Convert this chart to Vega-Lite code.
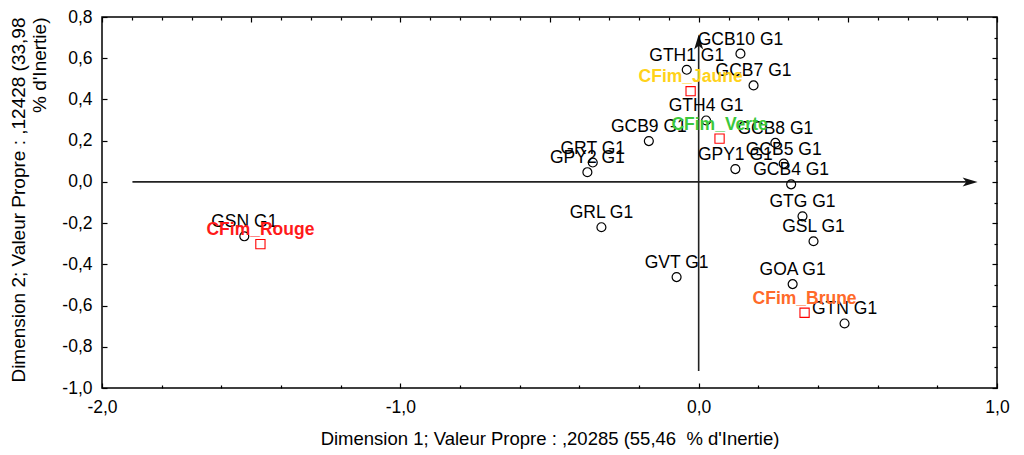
{
  "$schema": "https://vega.github.io/schema/vega-lite/v6.json",
  "width": 895,
  "height": 371,
  "autosize": {"type": "none"},
  "padding": {"left": 102, "top": 17, "right": 27, "bottom": 67},
  "background": "white",
  "config": {
    "view": {"stroke": "#000", "strokeWidth": 1.5},
    "font": "Liberation Sans",
    "axis": {"grid": false, "domain": false, "labelFont": "Liberation Sans", "titleFont": "Liberation Sans", "labelColor": "#000", "titleColor": "#000", "titleFontWeight": "normal", "tickColor": "#000", "tickWidth": 1.2}
  },
  "datasets": {
    "pts": [
      {"name": "GCB10 G1", "d1": 0.140, "d2": 0.622, "kind": "obs"},
      {"name": "GTH1 G1", "d1": -0.040, "d2": 0.544, "kind": "obs"},
      {"name": "GCB7 G1", "d1": 0.184, "d2": 0.468, "kind": "obs"},
      {"name": "GTH4 G1", "d1": 0.025, "d2": 0.298, "kind": "obs"},
      {"name": "GCB9 G1", "d1": -0.167, "d2": 0.198, "kind": "obs"},
      {"name": "GCB8 G1", "d1": 0.257, "d2": 0.189, "kind": "obs"},
      {"name": "GCB5 G1", "d1": 0.285, "d2": 0.089, "kind": "obs"},
      {"name": "GPY1 G1", "d1": 0.123, "d2": 0.062, "kind": "obs"},
      {"name": "GCB4 G1", "d1": 0.310, "d2": -0.012, "kind": "obs"},
      {"name": "GTG G1", "d1": 0.348, "d2": -0.167, "kind": "obs"},
      {"name": "GSL G1", "d1": 0.385, "d2": -0.288, "kind": "obs"},
      {"name": "GOA G1", "d1": 0.315, "d2": -0.496, "kind": "obs"},
      {"name": "GTN G1", "d1": 0.489, "d2": -0.687, "kind": "obs"},
      {"name": "GVT G1", "d1": -0.074, "d2": -0.462, "kind": "obs"},
      {"name": "GRL G1", "d1": -0.326, "d2": -0.220, "kind": "obs"},
      {"name": "GRT G1", "d1": -0.355, "d2": 0.094, "kind": "obs"},
      {"name": "GPY2 G1", "d1": -0.373, "d2": 0.047, "kind": "obs"},
      {"name": "GSN G1", "d1": -1.523, "d2": -0.264, "kind": "obs"}
    ],
    "cats": [
      {"name": "CFim_Jaune", "d1": -0.027, "d2": 0.440},
      {"name": "CFim_Verte", "d1": 0.070, "d2": 0.210},
      {"name": "CFim_Rouge", "d1": -1.469, "d2": -0.302},
      {"name": "CFim_Brune", "d1": 0.355, "d2": -0.635}
    ],
    "axlines": [
      {"dir": "h", "x": -1.898, "x2": 0.905, "y": 0, "y2": 0},
      {"dir": "v", "x": 0, "x2": 0, "y": -0.918, "y2": 0.69}
    ],
    "heads": [
      {"dir": "h", "x": 0.935, "y": 0},
      {"dir": "v", "x": 0, "y": 0.715}
    ]
  },
  "layer": [
    {
      "layer": [
        {
          "data": {"name": "axlines"},
          "mark": {"type": "rule", "color": "#222", "strokeWidth": 1.6},
          "encoding": {
            "x": {"field": "x", "type": "quantitative", "scale": {"domain": [-2, 1], "nice": false, "zero": false}},
            "x2": {"field": "x2"},
            "y": {"field": "y", "type": "quantitative", "scale": {"domain": [-1, 0.8], "nice": false, "zero": false}},
            "y2": {"field": "y2"}
          }
        },
        {
          "data": {"name": "heads"},
          "transform": [{"filter": "datum.dir == 'h'"}],
          "mark": {"type": "point", "shape": "M0,0L-1,-0.3L-0.75,0L-1,0.3Z", "filled": true, "color": "#111", "opacity": 1, "size": 900, "strokeWidth": 0},
          "encoding": {
            "x": {"field": "x", "type": "quantitative"},
            "y": {"field": "y", "type": "quantitative"}
          }
        },
        {
          "data": {"name": "heads"},
          "transform": [{"filter": "datum.dir == 'v'"}],
          "mark": {"type": "point", "shape": "M0,0L-0.3,1L0,0.75L0.3,1Z", "filled": true, "color": "#111", "opacity": 1, "size": 900, "strokeWidth": 0},
          "encoding": {
            "x": {"field": "x", "type": "quantitative"},
            "y": {"field": "y", "type": "quantitative"}
          }
        },
        {
          "data": {"name": "pts"},
          "mark": {"type": "point", "shape": "circle", "filled": false, "color": "#000", "opacity": 1, "size": 80, "strokeWidth": 1.2},
          "encoding": {
            "x": {"field": "d1", "type": "quantitative"},
            "y": {"field": "d2", "type": "quantitative"}
          }
        },
        {
          "data": {"name": "cats"},
          "mark": {"type": "point", "shape": "square", "filled": false, "color": "#ff0000", "opacity": 1, "size": 85, "strokeWidth": 1.1},
          "encoding": {
            "x": {"field": "d1", "type": "quantitative"},
            "y": {"field": "d2", "type": "quantitative"}
          }
        },
        {
          "data": {"name": "pts"},
          "mark": {"type": "text", "font": "Liberation Sans", "fontSize": 17.5, "align": "center", "baseline": "alphabetic", "dy": -9, "color": "#000"},
          "encoding": {
            "x": {"field": "d1", "type": "quantitative"},
            "y": {"field": "d2", "type": "quantitative"},
            "text": {"field": "name"}
          }
        },
        {
          "data": {"name": "cats"},
          "mark": {"type": "text", "font": "Liberation Sans", "fontSize": 17.5, "fontWeight": "bold", "align": "center", "baseline": "alphabetic", "dy": -9},
          "encoding": {
            "x": {"field": "d1", "type": "quantitative",
              "axis": {
                "orient": "bottom",
                "title": "Dimension 1; Valeur Propre : ,20285 (55,46\u00a0 % d'Inertie)",
                "titleFontSize": 18.5, "titlePadding": 12,
                "values": [-2, -1.9, -1.8, -1.7, -1.6, -1.5, -1.4, -1.3, -1.2, -1.1, -1, -0.9, -0.8, -0.7, -0.6, -0.5, -0.4, -0.3, -0.2, -0.1, 0, 0.1, 0.2, 0.3, 0.4, 0.5, 0.6, 0.7, 0.8, 0.9, 1],
                "labelExpr": "abs(datum.value*2 - round(datum.value*2)) < 0.01 ? replace(replace(format(datum.value, '.1f'), '.', ','), '\u2212', '-') : ''",
                "labelFontSize": 17.5, "labelPadding": 15, "labelFlush": false, "labelOverlap": false,
                "tickSize": {"condition": {"test": "abs(datum.value*2 - round(datum.value*2)) < 0.01", "value": -5}, "value": -3}
              }},
            "y": {"field": "d2", "type": "quantitative",
              "axis": {
                "orient": "left",
                "title": ["Dimension 2; Valeur Propre : ,12428 (33,98", "% d'Inertie)\u00a0\u00a0\u00a0"],
                "titleFontSize": 19, "titleLineHeight": 21, "titlePadding": 12,
                "titleAnchor": "end", "titleAlign": "right",
                "values": [-1, -0.9, -0.8, -0.7, -0.6, -0.5, -0.4, -0.3, -0.2, -0.1, 0, 0.1, 0.2, 0.3, 0.4, 0.5, 0.6, 0.7, 0.8],
                "labelExpr": "abs(datum.value*5 - round(datum.value*5)) < 0.01 ? replace(replace(format(datum.value, '.1f'), '.', ','), '\u2212', '-') : ''",
                "labelFontSize": 17.5, "labelPadding": 15, "labelFlush": false, "labelOverlap": false,
                "tickSize": {"condition": {"test": "abs(datum.value*5 - round(datum.value*5)) < 0.01", "value": -5}, "value": -3}
              }},
            "text": {"field": "name"},
            "color": {"field": "name", "type": "nominal", "legend": null,
              "scale": {"domain": ["CFim_Jaune", "CFim_Verte", "CFim_Rouge", "CFim_Brune"], "range": ["#FFD21A", "#3CC83C", "#FF1A1A", "#FF6A2A"]}}
          }
        }
      ]
    },
    {
      "data": {"name": "heads"},
      "mark": {"type": "point", "opacity": 0},
      "encoding": {
        "x": {"field": "x", "type": "quantitative",
          "scale": {"domain": [-2, 1], "nice": false, "zero": false},
          "axis": {"orient": "top", "title": null, "labels": false,
            "values": [-2, -1.9, -1.8, -1.7, -1.6, -1.5, -1.4, -1.3, -1.2, -1.1, -1, -0.9, -0.8, -0.7, -0.6, -0.5, -0.4, -0.3, -0.2, -0.1, 0, 0.1, 0.2, 0.3, 0.4, 0.5, 0.6, 0.7, 0.8, 0.9, 1],
            "tickSize": {"condition": {"test": "abs(datum.value*2 - round(datum.value*2)) < 0.01", "value": -5}, "value": -3}}},
        "y": {"field": "y", "type": "quantitative",
          "scale": {"domain": [-1, 0.8], "nice": false, "zero": false},
          "axis": {"orient": "right", "title": null, "labels": false,
            "values": [-1, -0.9, -0.8, -0.7, -0.6, -0.5, -0.4, -0.3, -0.2, -0.1, 0, 0.1, 0.2, 0.3, 0.4, 0.5, 0.6, 0.7, 0.8],
            "tickSize": {"condition": {"test": "abs(datum.value*5 - round(datum.value*5)) < 0.01", "value": -5}, "value": -3}}}
      }
    }
  ],
  "resolve": {"scale": {"x": "independent", "y": "independent"}}
}
